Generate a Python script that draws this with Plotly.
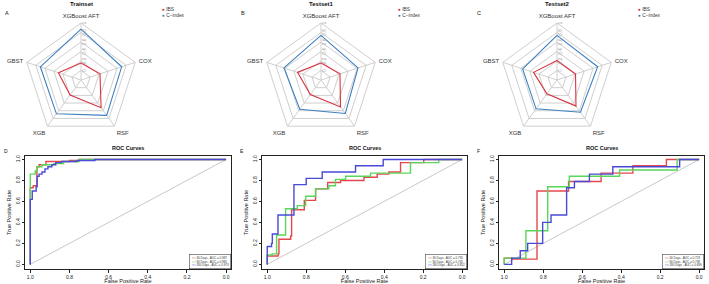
import plotly.graph_objects as go

W, H = 709, 284

# ---------------- Radar data ----------------
models = ["XGBoost AFT", "COX", "RSF", "XGB", "GBST"]
radar_titles = ["Trainset", "Testset1", "Testset2"]
ibs_train = [0.16, 0.22, 0.52, 0.19, 0.30]
cidx_train = [0.87, 0.70, 0.72, 0.68, 0.70]
ibs_test1 = [0.16, 0.22, 0.50, 0.18, 0.32]
cidx_test1 = [0.74, 0.62, 0.67, 0.56, 0.62]
ibs_test2 = [0.21, 0.21, 0.48, 0.16, 0.32]
cidx_test2 = [0.74, 0.70, 0.64, 0.55, 0.56]
radar_ticks = [0, 0.2, 0.4, 0.6, 0.8, 1.0]
radar_ticktext = ["0", "0.2", "0.4", "0.6", "0.8", "1"]

# ---------------- ROC data (specificity, sensitivity step corners) ----------------
roc_days = ["30 Days", "90 Days", "180 Days"]
# Panel D
d_red_x = [1.0, 1.0, 0.985, 0.966, 0.955, 0.92, 0.80, 0.75, 0.0]
d_red_y = [0.0, 0.73, 0.75, 0.93, 0.95, 0.98, 0.99, 1.0, 1.0]
d_green_x = [1.0, 1.0, 0.975, 0.965, 0.94, 0.88, 0.83, 0.75, 0.0]
d_green_y = [0.0, 0.86, 0.89, 0.93, 0.95, 0.96, 0.98, 1.0, 1.0]
d_blue_x = [1.0, 1.0, 0.99, 0.97, 0.965, 0.955, 0.94, 0.925, 0.91, 0.89, 0.87, 0.84, 0.76, 0.67, 0.0]
d_blue_y = [0.0, 0.62, 0.70, 0.74, 0.84, 0.86, 0.88, 0.91, 0.93, 0.95, 0.97, 0.98, 0.99, 1.0, 1.0]
d_auc = ["0.987", "0.985", "0.973"]
# Panel E
e_red_x = [1.0, 1.0, 0.944, 0.94, 0.88, 0.875, 0.81, 0.752, 0.69, 0.624, 0.504, 0.436, 0.376, 0.316, 0.197, 0.0]
e_red_y = [0.0, 0.08, 0.10, 0.24, 0.27, 0.52, 0.61, 0.72, 0.78, 0.80, 0.83, 0.86, 0.88, 0.97, 1.0, 1.0]
e_green_x = [1.0, 1.0, 0.975, 0.952, 0.906, 0.846, 0.803, 0.752, 0.684, 0.65, 0.598, 0.47, 0.265, 0.12, 0.0]
e_green_y = [0.0, 0.09, 0.10, 0.28, 0.53, 0.56, 0.65, 0.72, 0.75, 0.81, 0.84, 0.87, 0.97, 1.0, 1.0]
e_blue_x = [1.0, 1.0, 0.978, 0.974, 0.945, 0.863, 0.80, 0.718, 0.547, 0.405, 0.0]
e_blue_y = [0.0, 0.17, 0.20, 0.29, 0.47, 0.76, 0.82, 0.88, 0.94, 1.0, 1.0]
e_auc = ["0.735", "0.745", "0.852"]
# Panel F
f_red_x = [1.0, 1.0, 0.957, 0.832, 0.67, 0.503, 0.34, 0.168, 0.0]
f_red_y = [0.0, 0.06, 0.05, 0.70, 0.79, 0.87, 0.94, 1.0, 1.0]
f_green_x = [1.0, 1.0, 0.889, 0.777, 0.666, 0.408, 0.113, 0.0]
f_green_y = [0.0, 0.06, 0.32, 0.74, 0.84, 0.90, 1.0, 1.0]
f_blue_x = [1.0, 0.962, 0.918, 0.88, 0.803, 0.76, 0.68, 0.64, 0.563, 0.443, 0.10, 0.0]
f_blue_y = [0.0, 0.06, 0.13, 0.20, 0.40, 0.47, 0.73, 0.79, 0.86, 0.93, 1.0, 1.0]
f_auc = ["0.723", "0.738", "0.699"]
diag_x = [1.0, 0.0]
diag_y = [0.0, 1.0]
roc_ticks = [0.0, 0.2, 0.4, 0.6, 0.8, 1.0]

FONT = "Liberation Sans, Arial, sans-serif"
RED_R, BLUE_R = "#d8323f", "#3c7fc0"
RED, GREEN, BLUE = "#e5484c", "#5ad65a", "#4a4ad6"
GRID = "#cfcfcf"

def px(x):
    return x / W

def py(y):
    return 1 - y / H

fig = go.Figure()

radar_data = [(ibs_train, cidx_train), (ibs_test1, cidx_test1), (ibs_test2, cidx_test2)]
centers = [81, 321, 557]
cy, R = 80, 57
polar_names = ["polar", "polar2", "polar3"]
annotations = []
letters_top = ["A", "B", "C"]
letters_x = [3, 239, 475]

for i, (ibs, cidx) in enumerate(radar_data):
    sub = polar_names[i]
    th = models + [models[0]]
    fig.add_trace(go.Scatterpolar(r=ibs + [ibs[0]], theta=th, mode="lines",
                                  line=dict(color=RED_R, width=1.1), name="IBS",
                                  subplot=sub, showlegend=False))
    fig.add_trace(go.Scatterpolar(r=cidx + [cidx[0]], theta=th, mode="lines",
                                  line=dict(color=BLUE_R, width=1.1), name="C\u2212index",
                                  subplot=sub, showlegend=False))
    cx = centers[i]
    fig.layout[sub] = dict(
        domain=dict(x=[px(cx - R), px(cx + R)], y=[py(cy + R), py(cy - R)]),
        gridshape="linear",
        bgcolor="white",
        angularaxis=dict(direction="clockwise", rotation=90, showline=True,
                         linecolor=GRID, linewidth=1, gridcolor=GRID, gridwidth=1,
                         ticks="outside", ticklen=2, tickcolor="rgba(0,0,0,0)",
                         tickfont=dict(size=6, color="#333333", family=FONT)),
        radialaxis=dict(range=[-0.2, 1.0], tickvals=radar_ticks, ticktext=radar_ticktext,
                        showline=False, gridcolor=GRID, gridwidth=1, angle=90, tickangle=0,
                        ticks="", tickfont=dict(size=4.5, color="#a0a0a0", family=FONT)),
    )
    annotations.append(dict(text="<b>" + radar_titles[i] + "</b>", x=px(cx), y=py(4),
                            xref="paper", yref="paper", showarrow=False, xanchor="center",
                            yanchor="middle", font=dict(size=6, family=FONT, color="#111")))
    annotations.append(dict(text=letters_top[i], x=px(letters_x[i]), y=py(13), xref="paper",
                            yref="paper", showarrow=False, xanchor="left", yanchor="middle",
                            font=dict(size=5.5, family=FONT, color="#111")))
    lx = [160, 396, 636][i]
    annotations.append(dict(
        text="<span style='color:%s'>\u25cf</span> IBS<br><span style='color:%s'>\u25cf</span> C\u2212index" % (RED_R, BLUE_R),
        x=px(lx), y=py(12.5), xref="paper", yref="paper", showarrow=False, xanchor="left",
        yanchor="middle", align="left", font=dict(size=4.8, family=FONT, color="#333")))

# ---------------- ROC panels ----------------
roc_data = [
    [(d_red_x, d_red_y), (d_green_x, d_green_y), (d_blue_x, d_blue_y), d_auc],
    [(e_red_x, e_red_y), (e_green_x, e_green_y), (e_blue_x, e_blue_y), e_auc],
    [(f_red_x, f_red_y), (f_green_x, f_green_y), (f_blue_x, f_blue_y), f_auc],
]
boxes = [(25, 231), (262, 467), (499, 704)]
box_top, box_bot = 156, 269
letters_bot = ["D", "E", "F"]
colors = [RED, GREEN, BLUE]

for i, panel in enumerate(roc_data):
    ax = "" if i == 0 else str(i + 1)
    xa, ya = "x" + ax, "y" + ax
    fig.add_trace(go.Scatter(x=diag_x, y=diag_y, mode="lines", line=dict(color="#c8c8c8", width=1),
                             xaxis=xa, yaxis=ya, showlegend=False, hoverinfo="skip"))
    for k in range(3):
        xs, ys = panel[k]
        fig.add_trace(go.Scatter(x=xs, y=ys, mode="lines", line=dict(color=colors[k], width=1.4, shape="hv"),
                                 name=roc_days[k], xaxis=xa, yaxis=ya, showlegend=False))
    l, r = boxes[i]
    axis_common = dict(showline=True, mirror=True, linecolor="#222", linewidth=1,
                       ticks="outside", ticklen=2.5, tickwidth=0.8, tickcolor="#222",
                       tickvals=roc_ticks, tickformat=".1f", showgrid=False, zeroline=False,
                       tickfont=dict(size=5, family=FONT, color="#222"))
    fig.layout["xaxis" + ax] = dict(axis_common, domain=[px(l), px(r)], range=[1.027, -0.025],
                                    anchor=ya,
                                    title=dict(text="False Positive Rate", standoff=0,
                                               font=dict(size=5.5, family=FONT, color="#222")))
    fig.layout["yaxis" + ax] = dict(axis_common, domain=[py(box_bot), py(box_top)], range=[-0.044, 1.033],
                                    anchor=xa, tickangle=-90,
                                    title=dict(text="True Positive Rate", standoff=2,
                                               font=dict(size=5.5, family=FONT, color="#222")))
    annotations.append(dict(text="<b>ROC Curves</b>", x=px((l + r) / 2), y=py(148), xref="paper",
                            yref="paper", showarrow=False, xanchor="center", yanchor="middle",
                            font=dict(size=5.5, family=FONT, color="#111")))
    annotations.append(dict(text=letters_bot[i], x=px([2, 238, 475][i]), y=py(151), xref="paper",
                            yref="paper", showarrow=False, xanchor="left", yanchor="middle",
                            font=dict(size=5, family=FONT, color="#111")))
    aucs = panel[3]
    leg = "<br>".join("<span style='color:%s'>\u2501\u2501</span> %s , AUC = %s" % (colors[k], roc_days[k], aucs[k])
                      for k in range(3))
    annotations.append(dict(text=leg, x=1, y=0, xref=xa + " domain", yref=ya + " domain",
                            xanchor="right", yanchor="bottom", showarrow=False, align="left",
                            bgcolor="white", bordercolor="#444", borderwidth=0.6, borderpad=1,
                            font=dict(size=3, family=FONT, color="#333")))

fig.update_layout(width=W, height=H, margin=dict(l=0, r=0, t=0, b=0),
                  paper_bgcolor="white", plot_bgcolor="white", annotations=annotations,
                  showlegend=False, font=dict(family=FONT))

fig.write_html("out.html")
